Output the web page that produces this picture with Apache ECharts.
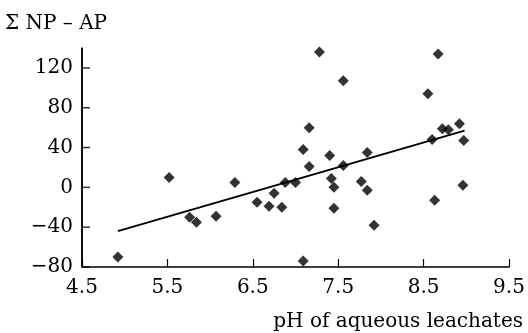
<!DOCTYPE html>
<html>
<head>
<meta charset="utf-8">
<script src="https://cdn.jsdelivr.net/npm/echarts@6/dist/echarts.min.js"></script>
<style>
  html, body { margin: 0; padding: 0; background: #fff; }
  #main { width: 528px; height: 333px; }
</style>
</head>
<body>
<div id="main"></div>
<script>
// pH of leachate / sum NP - AP
var phValues = [4.92, 5.52, 5.76, 5.84, 6.07, 6.29, 6.55, 6.69, 6.75, 6.84, 6.88, 7.00,
    7.09, 7.16, 7.16, 7.09, 7.28, 7.40, 7.42, 7.45, 7.45, 7.56, 7.56, 7.77,
    7.84, 7.84, 7.92, 8.55, 8.60, 8.63, 8.67, 8.72, 8.79, 8.92, 8.96, 8.97];
var npApValues = [-70, 10, -30, -35, -29, 5, -15, -19, -6, -20, 5, 5,
    38, 60, 21, -74, 136, 32, 9, 0, -21, 22, 107, 6,
    35, -3, -38, 94, 48, -13, 134, 59, 58, 64, 2, 47];
// regression line ends
var trendX = [4.92, 8.98];
var trendY = [-44, 57];
var yTickStep = 40;
var yTicks = [-80, -40, 0, 40, 80, 120];
var xMin = 4.5;

var points = phValues.map(function (x, i) { return [x, npApValues[i]]; });
var trend = trendX.map(function (x, i) { return [x, trendY[i]]; });
// y tick marks sit on the left axis (x = xMin)
var yTickMarks = yTicks.map(function (v) { return [xMin, v]; });

var font = 'DejaVu Serif';
var chart = echarts.init(document.getElementById('main'));
var option = {
    animation: false,
    backgroundColor: '#fff',
    title: [
        {
            text: 'Σ NP – AP',
            left: 0,
            top: 9,
            textStyle: {fontFamily: font, fontSize: 20, fontWeight: 'normal', color: '#000'}
        },
        {
            text: 'pH of aqueous leachates',
            right: 0,
            top: 307,
            textStyle: {fontFamily: font, fontSize: 20, fontWeight: 'normal', color: '#000'}
        }
    ],
    grid: {left: 82, right: 19, top: 48, bottom: 66},
    xAxis: {
        type: 'value',
        min: xMin,
        max: 9.5,
        interval: 1,
        // first split line doubles as the left frame line
        splitLine: {
            show: true,
            showMinLine: true,
            lineStyle: {color: ['#000', 'rgba(0,0,0,0)', 'rgba(0,0,0,0)', 'rgba(0,0,0,0)', 'rgba(0,0,0,0)', 'rgba(0,0,0,0)'], width: 1.5}
        },
        axisLine: {onZero: false, lineStyle: {color: '#000', width: 1.5}},
        axisTick: {inside: true, length: 8, lineStyle: {color: '#000', width: 1.2}},
        axisLabel: {
            margin: 11, color: '#000', fontFamily: font, fontSize: 20,
            formatter: function (v) { return v.toFixed(1); }
        }
    },
    yAxis: {
        type: 'value',
        min: -80,
        max: 140,
        interval: yTickStep,
        splitLine: {show: false},
        axisLine: {show: true, lineStyle: {color: '#000', width: 1.5}},
        axisTick: {show: false},
        axisLabel: {
            margin: 9, color: '#000', fontFamily: font, fontSize: 20,
            showMaxLabel: false,
            formatter: function (v) { return v < 0 ? '\u2212' + (-v) : '' + v; }
        }
    },
    series: [
        {type: 'line', data: trend, symbol: 'none', lineStyle: {color: '#000', width: 2}},
        {type: 'scatter', data: points, symbol: 'diamond', symbolSize: 11, itemStyle: {color: '#000'}},
        {
            // inward tick marks of the y axis
            type: 'scatter',
            data: yTickMarks,
            symbol: 'rect',
            symbolSize: [8, 1.5],
            symbolOffset: [4, 0],
            clip: false,
            silent: true,
            itemStyle: {color: '#000'}
        }
    ]
};
chart.setOption(option);
</script>
</body>
</html>
